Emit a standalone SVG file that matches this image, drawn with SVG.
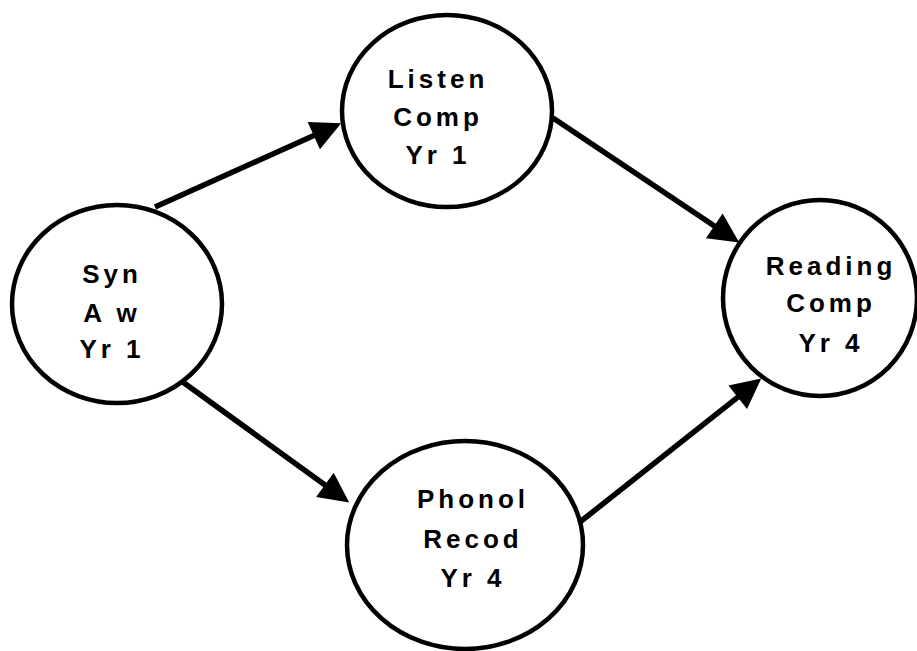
<svg xmlns="http://www.w3.org/2000/svg" width="917" height="651" viewBox="0 0 917 651">
<style>
.node{fill:#fff;stroke:#000;stroke-width:4.5}
.lbl{font-family:"Liberation Sans",Arial,sans-serif;font-weight:bold;font-size:26px;letter-spacing:4px;text-anchor:middle;fill:#000}
.edge{stroke:#000;stroke-width:5.5;fill:none;marker-end:url(#ah)}
</style>
<defs>
<marker id="ah" viewBox="0 0 10 10" refX="5.3" refY="5" markerWidth="32" markerHeight="30" markerUnits="userSpaceOnUse" orient="auto">
<path d="M0,0 L10,5 L0,10 z" fill="#000"/>
</marker>
</defs>
<rect width="917" height="651" fill="#fff"/>
<g id="connectors">
<line class="edge" x1="155" y1="207" x2="328.3" y2="129.1"/>
<line class="edge" x1="553" y1="118" x2="727.5" y2="234.7"/>
<line class="edge" x1="180" y1="380" x2="337.8" y2="494.2"/>
<line class="edge" x1="580" y1="522" x2="750.2" y2="387.3"/>
</g>
<g id="syn">
<ellipse class="node" cx="117" cy="304" rx="105" ry="99"/>
<text class="lbl" x="112" y="283">Syn</text>
<text class="lbl" x="112" y="322">A w</text>
<text class="lbl" x="112" y="358">Yr 1</text>
</g>
<g id="listen">
<ellipse class="node" cx="447" cy="111" rx="105" ry="96"/>
<text class="lbl" x="438" y="88">Listen</text>
<text class="lbl" x="438" y="126">Comp</text>
<text class="lbl" x="438" y="164">Yr 1</text>
</g>
<g id="reading">
<ellipse class="node" cx="820" cy="298" rx="97" ry="98"/>
<text class="lbl" x="831" y="275">Reading</text>
<text class="lbl" x="831" y="312">Comp</text>
<text class="lbl" x="831" y="352">Yr 4</text>
</g>
<g id="phonol">
<ellipse class="node" cx="465" cy="545" rx="118" ry="104"/>
<text class="lbl" x="473" y="508">Phonol</text>
<text class="lbl" x="473" y="548">Recod</text>
<text class="lbl" x="473" y="587">Yr 4</text>
</g>
</svg>
